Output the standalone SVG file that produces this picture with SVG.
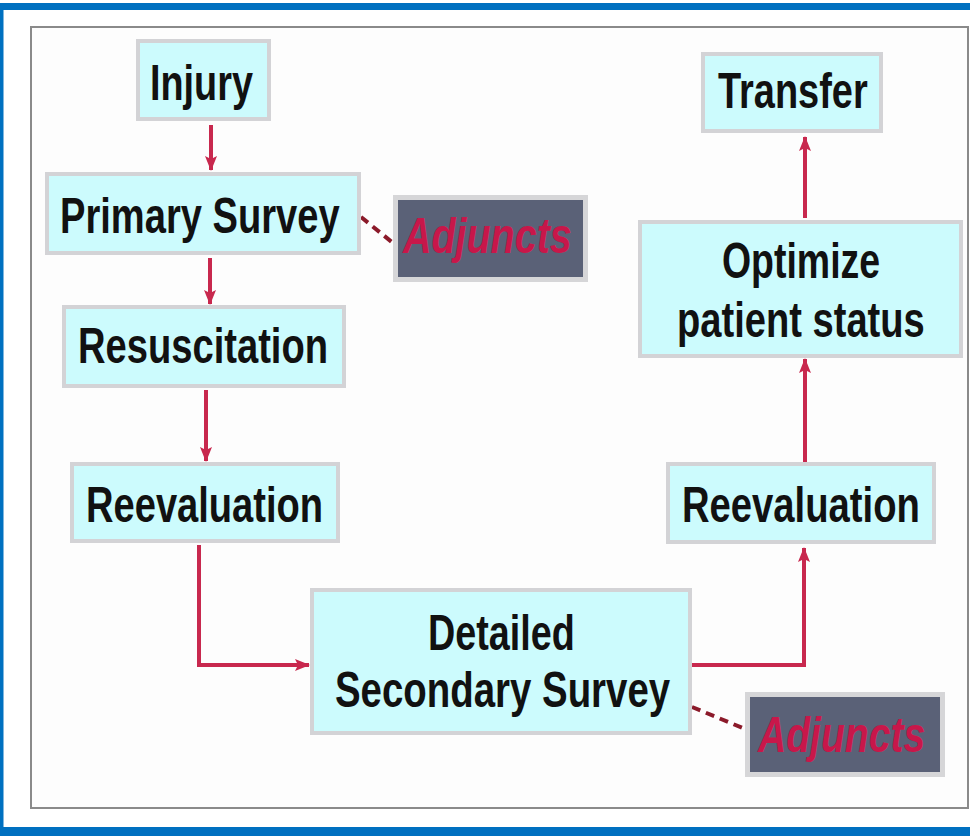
<svg xmlns="http://www.w3.org/2000/svg" width="970" height="836" viewBox="0 0 970 836">
<style>
.box{fill:#ccfbfd;stroke:#d3d3d6;stroke-width:4}
.adj{fill:#5a6177;stroke:#d6d6d8;stroke-width:5}
.t{font-family:"Liberation Sans",Arial,sans-serif;font-weight:bold;font-size:50px;fill:#111}
.a{font-family:"Liberation Sans",Arial,sans-serif;font-weight:bold;font-style:italic;font-size:50px;fill:#c8174a}
.c{fill:none;stroke:#c8284e;stroke-width:4}
.d{fill:none;stroke:#8b1a2a;stroke-width:4;stroke-dasharray:9 6}
</style>
<defs>
<marker id="ah" markerUnits="userSpaceOnUse" markerWidth="16" markerHeight="16" viewBox="0 0 16 16" refX="14" refY="8" orient="auto">
<path d="M0,2 L15,8 L0,14 L3,8 Z" fill="#c8284e"/>
</marker>
</defs>
<rect x="0" y="0" width="970" height="836" fill="#fff"/>
<rect x="0" y="3" width="970" height="7" fill="#0070c0"/>
<rect x="0" y="3" width="3.5" height="833" fill="#0070c0"/>
<rect x="0" y="827" width="970" height="9" fill="#0070c0"/>
<rect x="31" y="27" width="937" height="781" fill="#fdfdfd" stroke="#8a8a8a" stroke-width="2"/>

<g id="connectors">
<line class="c" x1="211" y1="125" x2="211" y2="170" marker-end="url(#ah)"/>
<line class="c" x1="210" y1="258" x2="210" y2="304" marker-end="url(#ah)"/>
<line class="c" x1="206" y1="390" x2="206" y2="461" marker-end="url(#ah)"/>
<path class="c" d="M199,545 V665 H309" marker-end="url(#ah)"/>
<path class="c" d="M692,665 H804 V548" marker-end="url(#ah)"/>
<line class="c" x1="805" y1="462" x2="805" y2="359" marker-end="url(#ah)"/>
<line class="c" x1="805" y1="218" x2="805" y2="137" marker-end="url(#ah)"/>
<line class="d" x1="361" y1="217" x2="393" y2="243"/>
<line class="d" x1="692" y1="707" x2="745" y2="729"/>
</g>

<g id="injury">
<rect class="box" x="138" y="41" width="131" height="78"/>
<text class="t" transform="translate(150,100) scale(0.76,1)" textLength="135.5" lengthAdjust="spacingAndGlyphs">Injury</text>
</g>
<g id="primary-survey">
<rect class="box" x="47" y="174" width="312" height="79"/>
<text class="t" transform="translate(60,233) scale(0.76,1)" textLength="368" lengthAdjust="spacingAndGlyphs">Primary Survey</text>
</g>
<g id="adjuncts-1">
<rect class="adj" x="395.5" y="197.5" width="190" height="82"/>
<text class="a" transform="translate(403,253) scale(0.76,1)" textLength="222" lengthAdjust="spacingAndGlyphs">Adjuncts</text>
</g>
<g id="resuscitation">
<rect class="box" x="64" y="307" width="280" height="79"/>
<text class="t" transform="translate(78,363) scale(0.76,1)" textLength="329" lengthAdjust="spacingAndGlyphs">Resuscitation</text>
</g>
<g id="reevaluation-1">
<rect class="box" x="72" y="464" width="266" height="77"/>
<text class="t" transform="translate(86,522) scale(0.76,1)" textLength="312" lengthAdjust="spacingAndGlyphs">Reevaluation</text>
</g>
<g id="detailed-secondary-survey">
<rect class="box" x="312" y="590" width="378" height="143"/>
<text class="t" transform="translate(428,650) scale(0.76,1)" textLength="193" lengthAdjust="spacingAndGlyphs">Detailed</text>
<text class="t" transform="translate(335,707) scale(0.76,1)" textLength="441" lengthAdjust="spacingAndGlyphs">Secondary Survey</text>
</g>
<g id="adjuncts-2">
<rect class="adj" x="747.5" y="694.5" width="195" height="80"/>
<text class="a" transform="translate(758,752) scale(0.76,1)" textLength="220" lengthAdjust="spacingAndGlyphs">Adjuncts</text>
</g>
<g id="reevaluation-2">
<rect class="box" x="668" y="464" width="266" height="78"/>
<text class="t" transform="translate(682,522) scale(0.76,1)" textLength="313" lengthAdjust="spacingAndGlyphs">Reevaluation</text>
</g>
<g id="optimize">
<rect class="box" x="640" y="222" width="321" height="134"/>
<text class="t" transform="translate(722,278) scale(0.76,1)" textLength="208" lengthAdjust="spacingAndGlyphs">Optimize</text>
<text class="t" transform="translate(677,337) scale(0.76,1)" textLength="326" lengthAdjust="spacingAndGlyphs">patient status</text>
</g>
<g id="transfer">
<rect class="box" x="703" y="54" width="178" height="77"/>
<text class="t" transform="translate(718,108) scale(0.76,1)" textLength="197" lengthAdjust="spacingAndGlyphs">Transfer</text>
</g>
</svg>
